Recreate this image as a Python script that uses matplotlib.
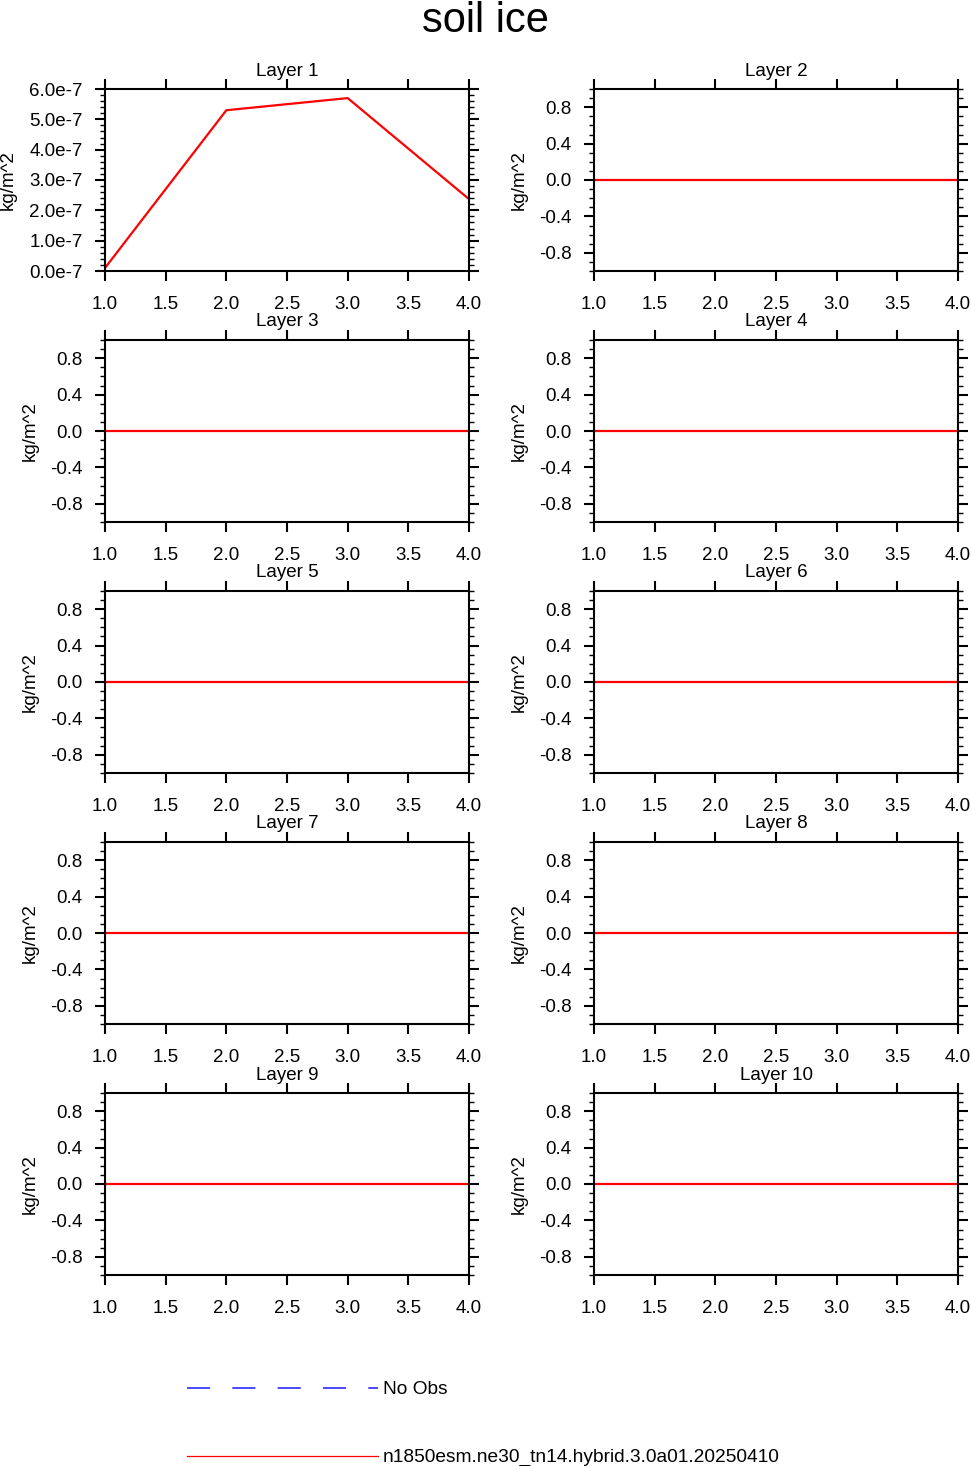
import numpy as np
import matplotlib
matplotlib.use("Agg")
import matplotlib.pyplot as plt
from matplotlib.lines import Line2D
from matplotlib.ticker import FixedLocator, FuncFormatter

plt.rcParams['font.family'] = ['Liberation Sans', 'DejaVu Sans']

# ---- data ----
title = "soil ice"
years = [1.0, 2.0, 3.0, 4.0]
layer_names = ["Layer %d" % i for i in range(1, 11)]
layer1 = [0.1e-7, 5.3e-7, 5.7e-7, 2.37e-7]
layer_zero = [0.0, 0.0, 0.0, 0.0]
layer_values = [layer1] + [layer_zero] * 9
xticks = [1.0, 1.5, 2.0, 2.5, 3.0, 3.5, 4.0]
yticks_default = [-0.8, -0.4, 0.0, 0.4, 0.8]
yminor_default = [-1.0, -0.9, -0.7, -0.6, -0.5, -0.3, -0.2, -0.1,
                  0.1, 0.2, 0.3, 0.5, 0.6, 0.7, 0.9, 1.0]
yticks_l1 = [0.0, 1e-7, 2e-7, 3e-7, 4e-7, 5e-7, 6e-7]
yminor_l1 = [k * 0.2e-7 for k in range(31) if k % 5 != 0]
ylabel = "kg/m^2"
legend_labels = ["No Obs", "n1850esm.ne30_tn14.hybrid.3.0a01.20250410"]

W, H = 971, 1466
fig = plt.figure(figsize=(W / 100, H / 100), dpi=100)

col_x = [105, 594]
ax_w = 364
ax_h = 182
row_top = [89 + 251 * i for i in range(5)]
FS = 13.5

for i in range(10):
    r, c = divmod(i, 2)
    left = col_x[c] / W
    bottom = 1 - (row_top[r] + ax_h) / H
    ax = fig.add_axes([left, bottom, ax_w / W, ax_h / H])
    ax.plot(years, layer_values[i], color='red', lw=1.6, solid_capstyle='butt')
    ax.set_xlim(1.0, 4.0)
    ax.set_xticks(xticks)
    ax.set_xticklabels(["%.1f" % v for v in xticks])
    if i == 0:
        ax.set_ylim(0, 6e-7)
        ax.yaxis.set_major_locator(FixedLocator(yticks_l1))
        ax.yaxis.set_minor_locator(FixedLocator(yminor_l1))
        ax.yaxis.set_major_formatter(FuncFormatter(lambda v, p: "%.1fe-7" % (v / 1e-7)))
        lx = (8 - col_x[c]) / ax_w
    else:
        ax.set_ylim(-1.0, 1.0)
        ax.yaxis.set_major_locator(FixedLocator(yticks_default))
        ax.yaxis.set_minor_locator(FixedLocator(yminor_default))
        ax.yaxis.set_major_formatter(FuncFormatter(lambda v, p: "%.1f" % v))
        lx = -75 / ax_w
    ax.tick_params(which='both', direction='out', top=True, right=True,
                   labelsize=FS, width=1.5, colors='black')
    ax.tick_params(which='major', length=7.2, pad=9)
    ax.tick_params(axis='x', which='major', pad=10.5)
    ax.tick_params(which='minor', length=3.6, width=1.0)
    for s in ax.spines.values():
        s.set_linewidth(1.5)
    ax.set_ylabel(ylabel, fontsize=FS, va='center')
    ax.yaxis.set_label_coords(lx, 0.5)
    ax.text(0.5, 1 + 18 / ax_h, layer_names[i], transform=ax.transAxes,
            ha='center', va='center', fontsize=FS)

fig.text(0.5, 1 - 21 / H, title, ha='center', va='center', fontsize=30)

# legend
fig.add_artist(Line2D([187 / W, 378 / W], [1 - 1388 / H] * 2, transform=fig.transFigure,
                      color='#3c3cff', lw=1.3, dashes=(12.8, 12.3)))
fig.add_artist(Line2D([187 / W, 378 / W], [1 - 1456 / H] * 2, transform=fig.transFigure,
                      color='red', lw=0.9))
fig.text(383 / W, 1 - 1390 / H, legend_labels[0], ha='left', va='center', fontsize=13.8)
fig.text(383 / W, 1 - 1457 / H, legend_labels[1], ha='left', va='center', fontsize=13.8)

fig.savefig("out.png", dpi=100)
